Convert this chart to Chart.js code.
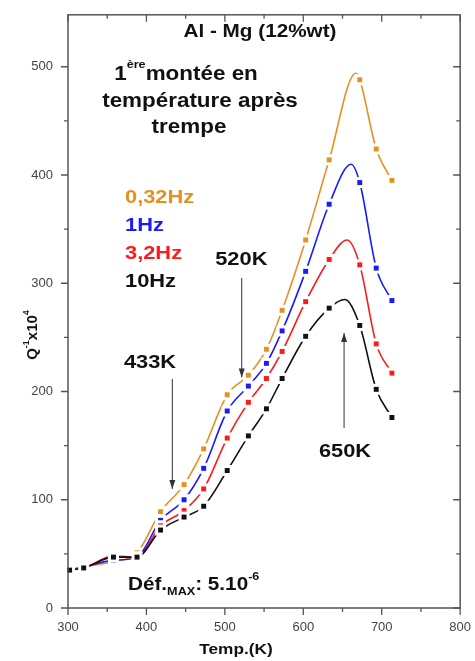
<!DOCTYPE html>
<html>
<head>
<meta charset="utf-8">
<script src="https://cdn.jsdelivr.net/npm/chart.js@4"></script>
<style>
  body { margin: 0; background: #fff; }
  #wrap { width: 475px; height: 661px; }
</style>
</head>
<body>
<div id="wrap"><canvas id="myChart"></canvas></div>
<script>
// data
const temps = [302, 320, 358, 388, 418, 448, 473, 503, 530, 553, 573, 603, 633, 672, 693, 713];
const q032 = [35, 38, 43, 51, 89, 114, 147, 197, 215, 239, 275, 340, 414, 488, 424, 395];
const q1 = [35, 38, 44, 47, 81, 100, 129, 182, 205, 226, 256, 311, 373, 393, 314, 284];
const q32 = [35, 37, 48, 47, 76, 90, 110, 157, 190, 212, 237, 283, 322, 317, 244, 217];
const q10 = [35, 37, 47, 47, 72, 84, 94, 127, 159, 184, 212, 251, 277, 261, 202, 176];

// top of each curve (no marker there)
const peakT = [667, 661, 656, 653];
const peakQ = [494, 410, 340, 285];

const seriesNames = ["0,32Hz", "1Hz", "3,2Hz", "10Hz"];
const seriesColors = ["#e8901e", "#1a1aff", "#ff1a1a", "#111111"];
const seriesValues = [q032, q1, q32, q10];

const FONT = '"Liberation Sans", Arial, sans-serif';
const STRETCH = 1.15;

const toXY = (vals, i) =>
  temps
    .map((t, j) => ({ x: t, y: vals[j] }))
    .concat([{ x: peakT[i], y: peakQ[i], peak: true }])
    .sort((a, b) => a.x - b.x);

const datasets = seriesValues.map((vals, i) => ({
  label: seriesNames[i],
  data: toXY(vals, i),
  borderColor: seriesColors[i],
  backgroundColor: seriesColors[i],
  borderWidth: 1.6,
  cubicInterpolationMode: "monotone",
  pointStyle: "rect",
  pointRadius: (c) => (c.raw && c.raw.peak ? 0 : 3.5),
  pointBorderWidth: 0,
  pointBackgroundColor: seriesColors[i],
}));

// draw a line of text, possibly with super/subscripts, stretched horizontally
function richText(ctx, parts, x, y, align) {
  let total = 0;
  parts.forEach((p) => {
    ctx.font = "bold " + p.size + "px " + FONT;
    p.w = ctx.measureText(p.t).width * STRETCH;
    total += p.w;
  });
  let cx = align === "center" ? x - total / 2 : x;
  parts.forEach((p) => {
    ctx.save();
    ctx.font = "bold " + p.size + "px " + FONT;
    ctx.fillStyle = p.color || "#111";
    ctx.textBaseline = "middle";
    ctx.textAlign = "left";
    ctx.translate(cx, y + (p.dy || 0));
    ctx.scale(STRETCH, 1);
    ctx.fillText(p.t, 0, 0);
    ctx.restore();
    cx += p.w;
  });
}

function arrow(ctx, x1, y1, x2, y2) {
  ctx.save();
  ctx.strokeStyle = "#333";
  ctx.fillStyle = "#333";
  ctx.lineWidth = 1;
  ctx.beginPath();
  ctx.moveTo(x1, y1);
  ctx.lineTo(x2, y2);
  ctx.stroke();
  const dir = y2 > y1 ? 1 : -1;
  ctx.beginPath();
  ctx.moveTo(x2, y2);
  ctx.lineTo(x2 - 3, y2 - dir * 9);
  ctx.lineTo(x2 + 3, y2 - dir * 9);
  ctx.closePath();
  ctx.fill();
  ctx.restore();
}

// gap around the markers, like the original plot
const markerGap = {
  id: "markerGap",
  afterDatasetDraw(chart, args) {
    const ctx = chart.ctx;
    const meta = args.meta;
    const raw = chart.data.datasets[args.index].data;
    ctx.save();
    ctx.fillStyle = "#fff";
    meta.data.forEach((pt, j) => {
      if (raw[j].peak) return;
      ctx.fillRect(pt.x - 5.5, pt.y - 5.5, 11, 11);
    });
    ctx.restore();
    meta.data.forEach((pt, j) => {
      if (!raw[j].peak) pt.draw(ctx, chart.chartArea);
    });
  },
};

const frame = {
  id: "frame",
  afterDraw(chart) {
    const ctx = chart.ctx;
    const { left, right, top, bottom } = chart.chartArea;
    const xs = chart.scales.x, ys = chart.scales.y;
    ctx.save();
    ctx.strokeStyle = "#555";
    ctx.lineWidth = 1.5;
    ctx.strokeRect(left, top, right - left, bottom - top);
    ctx.lineWidth = 1.3;
    ctx.beginPath();
    for (let v = 300; v <= 800; v += 50) {
      const px = xs.getPixelForValue(v);
      const len = v % 100 === 0 ? 7 : 4;
      ctx.moveTo(px, bottom); ctx.lineTo(px, bottom + len);
      ctx.moveTo(px, top); ctx.lineTo(px, top + len);
    }
    for (let v = 0; v <= 500; v += 50) {
      const py = ys.getPixelForValue(v);
      const len = v % 100 === 0 ? 7 : 4;
      ctx.moveTo(left, py); ctx.lineTo(left - len, py);
      ctx.moveTo(right, py); ctx.lineTo(right - len, py);
    }
    ctx.stroke();
    ctx.restore();

    // titles and notes
    richText(ctx, [{ t: "Al - Mg (12%wt)", size: 18 }], 260, 32, "center");
    richText(ctx, [
      { t: "1", size: 19.5 },
      { t: "ère", size: 11, dy: -10 },
      { t: "montée en", size: 19.5 },
    ], 186, 75, "center");
    richText(ctx, [{ t: "température après", size: 19.5 }], 200, 102, "center");
    richText(ctx, [{ t: "trempe", size: 19.5 }], 189, 128, "center");

    seriesNames.forEach((n, i) => {
      richText(ctx, [{ t: n, size: 19, color: seriesColors[i] }], 125, 198 + i * 28, "left");
    });

    const X = (v) => xs.getPixelForValue(v);
    const Y = (v) => ys.getPixelForValue(v);

    richText(ctx, [{ t: "520K", size: 19 }], X(521), 260, "center");
    arrow(ctx, X(521.5), 278, X(521.5), Y(213));
    richText(ctx, [{ t: "433K", size: 19 }], 150, 363, "center");
    arrow(ctx, X(433), 379, X(433), Y(110));
    richText(ctx, [{ t: "650K", size: 19 }], 345, 452, "center");
    arrow(ctx, X(652), 428, X(652), Y(254));

    richText(ctx, [
      { t: "Déf.", size: 18 },
      { t: "MAX", size: 11, dy: 7 },
      { t: ": 5.10", size: 18 },
      { t: "-6", size: 11, dy: -8 },
    ], 128, 585, "left");

    // axis titles
    richText(ctx, [{ t: "Temp.(K)", size: 15 }], 236, 650, "center");
    ctx.save();
    ctx.translate(33, 335);
    ctx.rotate(-Math.PI / 2);
    ctx.fillStyle = "#111";
    ctx.textBaseline = "middle";
    const yt = [
      { t: "Q", size: 15, dy: 0 },
      { t: "-1", size: 9, dy: -6 },
      { t: "x10", size: 15, dy: 0 },
      { t: "4", size: 9, dy: -6 },
    ];
    let w = 0;
    yt.forEach((p) => { ctx.font = "bold " + p.size + "px " + FONT; p.w = ctx.measureText(p.t).width; w += p.w; });
    let cx = -w / 2;
    yt.forEach((p) => {
      ctx.font = "bold " + p.size + "px " + FONT;
      ctx.fillText(p.t, cx, p.dy);
      cx += p.w;
    });
    ctx.restore();
  },
};

const config = {
  type: "line",
  data: { datasets: datasets.slice().reverse() },
  options: {
    responsive: true,
    maintainAspectRatio: false,
    animation: false,
    layout: { padding: { top: 10, right: 12, left: 0, bottom: 0 } },
    scales: {
      x: {
        type: "linear",
        min: 300,
        max: 800,
        grid: { display: false, drawTicks: true, tickLength: 8 },
        border: { display: false },
        ticks: { stepSize: 100, padding: 4, color: "#444", font: { family: FONT, size: 13 } },
        afterFit: (s) => { s.height = 53; },
      },
      y: {
        min: 0,
        max: 548,
        grid: { display: false, drawTicks: true, tickLength: 8 },
        border: { display: false },
        ticks: { stepSize: 100, padding: 7, color: "#444", font: { family: FONT, size: 13 } },
        afterBuildTicks: (s) => { s.ticks = s.ticks.filter((t) => t.value % 100 === 0); },
        afterFit: (s) => { s.width = 68; },
      },
    },
    plugins: {
      legend: { display: false },
      tooltip: { enabled: false },
    },
  },
  plugins: [markerGap, frame],
};

new Chart(document.getElementById("myChart").getContext("2d"), config);
</script>
</body>
</html>
